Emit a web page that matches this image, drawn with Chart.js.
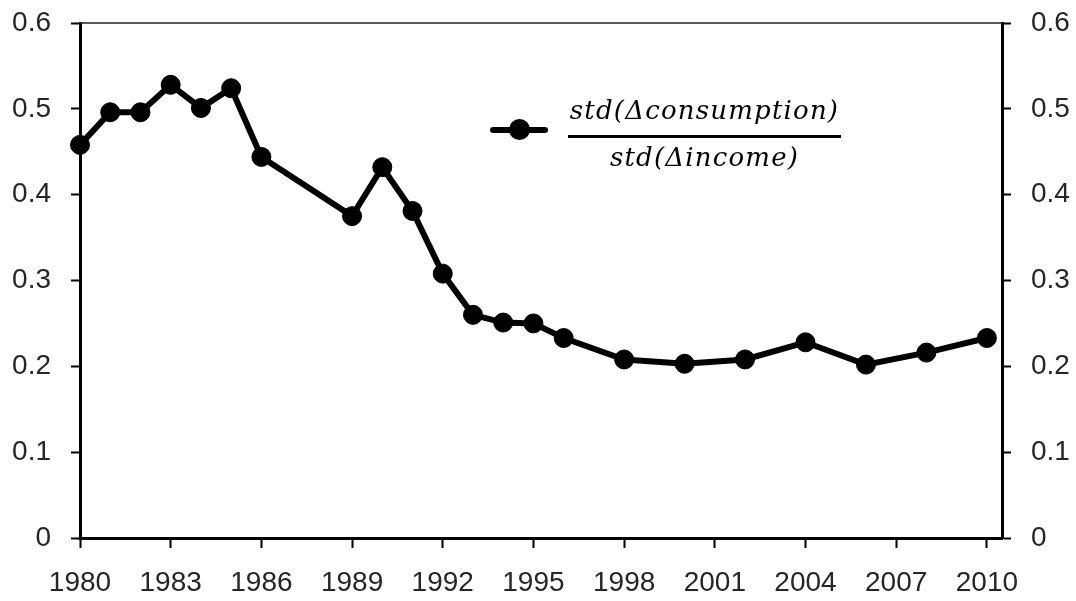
<!DOCTYPE html>
<html>
<head>
<meta charset="utf-8">
<script src="https://cdn.jsdelivr.net/npm/chart.js@4"></script>
<style>
  html, body { margin: 0; padding: 0; background: #fff; }
  #wrap { position: relative; width: 1076px; height: 601px; }
  #legend { position: absolute; left: 0; top: 0; width: 1076px; height: 601px; pointer-events: none; }
  .lg-line { position: absolute; left: 490px; top: 127px; width: 58px; height: 6px; background: #000; border-radius: 3px; }
  .lg-dot { position: absolute; left: 509px; top: 119px; width: 21px; height: 21px; background: #000; border-radius: 50%; }
  .frac { position: absolute; left: 568px; top: 93px; width: 273px; font-family: "DejaVu Serif", serif; font-style: italic; font-size: 26px; letter-spacing: 1.2px; color: #000; text-align: center; }
  .num { line-height: 34px; padding-bottom: 8px; border-bottom: 3px solid #000; }
  .den { line-height: 34px; padding-top: 2px; }
</style>
</head>
<body>
<div id="wrap">
  <canvas id="myChart" width="1076" height="601"></canvas>
  <div id="legend">
    <div class="lg-line"></div>
    <div class="lg-dot"></div>
    <div class="frac">
      <div class="num">std(Δconsumption)</div>
      <div class="den">std(Δincome)</div>
    </div>
  </div>
</div>
<script>
let years = [1980, 1981, 1982, 1983, 1984, 1985, 1986, 1989, 1990, 1991, 1992, 1993, 1994, 1995, 1996, 1998, 2000, 2002, 2004, 2006, 2008, 2010];
let ratio = [0.458, 0.496, 0.496, 0.528, 0.501, 0.524, 0.444, 0.375, 0.432, 0.381, 0.308, 0.260, 0.251, 0.250, 0.233, 0.208, 0.203, 0.208, 0.228, 0.202, 0.216, 0.233];
let yearTicks = [1980, 1983, 1986, 1989, 1992, 1995, 1998, 2001, 2004, 2007, 2010];
let valueTicks = [0, 0.1, 0.2, 0.3, 0.4, 0.5, 0.6];

let ctx = document.getElementById('myChart').getContext('2d');

Chart.defaults.font.family = '"Liberation Sans", Arial, sans-serif';
Chart.defaults.font.size = 28;
Chart.defaults.color = '#262626';

let points = years.map(function(y, i) { return { x: y, y: ratio[i] }; });

// thin frame line along the top of the plot
let topLine = {
    id: 'topLine',
    beforeDatasetsDraw: function(chart) {
        let a = chart.chartArea;
        let c = chart.ctx;
        c.save();
        c.strokeStyle = '#222';
        c.lineWidth = 1.5;
        c.beginPath();
        c.moveTo(a.left, a.top);
        c.lineTo(a.right, a.top);
        c.stroke();
        c.restore();
    }
};

function yAxis(pos) {
    return {
        type: 'linear',
        position: pos,
        min: 0,
        max: 0.6,
        afterBuildTicks: function(axis) {
            axis.ticks = valueTicks.map(function(v) { return { value: v }; });
        },
        afterFit: function(axis) {
            axis.width = 67;
            axis.paddingTop = 0;
            axis.paddingBottom = 0;
        },
        ticks: {
            padding: 20,
            callback: function(v) { return String(Math.round(v * 10) / 10); }
        },
        grid: {
            display: true,
            drawOnChartArea: false,
            drawTicks: true,
            tickLength: 9,
            tickWidth: 2,
            tickColor: '#000'
        },
        border: { display: true, color: '#000', width: 3 }
    };
}

let myChart = new Chart(ctx, {
    type: 'line',
    data: {
        datasets: [{
            data: points,
            borderColor: '#000',
            backgroundColor: '#000',
            borderWidth: 6,
            pointRadius: 9.5,
            pointBorderWidth: 1,
            pointBackgroundColor: '#000',
            pointBorderColor: '#000',
            tension: 0,
            clip: false,
            yAxisID: 'y'
        }]
    },
    plugins: [topLine],
    options: {
        responsive: false,
        animation: false,
        events: [],
        layout: { autoPadding: false, padding: { left: 13, right: 7, top: 23, bottom: 1 } },
        plugins: {
            legend: { display: false },
            tooltip: { enabled: false }
        },
        scales: {
            x: {
                type: 'linear',
                min: 1980,
                max: 2010.5,
                afterBuildTicks: function(axis) {
                    axis.ticks = yearTicks.map(function(v) { return { value: v }; });
                },
                afterFit: function(axis) {
                    axis.height = 62;
                    axis.paddingLeft = 0;
                    axis.paddingRight = 0;
                },
                ticks: {
                    padding: 18,
                    maxRotation: 0,
                    autoSkip: false,
                    callback: function(v) { return String(v); }
                },
                grid: {
                    display: true,
                    drawOnChartArea: false,
                    drawTicks: true,
                    tickLength: 10,
                    tickWidth: 2,
                    tickColor: '#000'
                },
                border: { display: true, color: '#000', width: 3 }
            },
            y: yAxis('left'),
            y2: yAxis('right')
        }
    }
});
</script>
</body>
</html>
